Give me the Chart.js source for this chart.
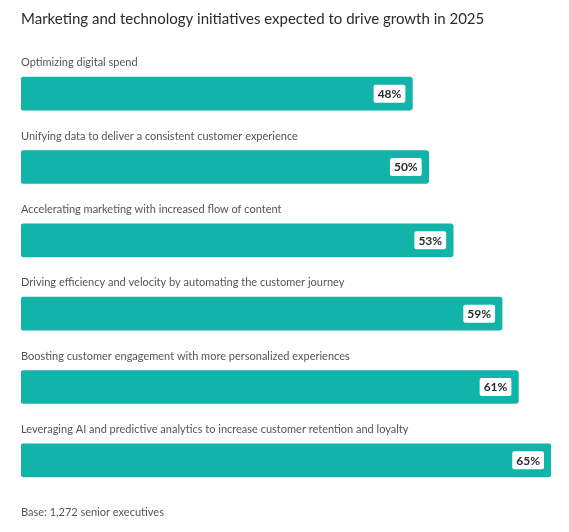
<!DOCTYPE html>
<html><head><meta charset="utf-8">
<script src="https://cdn.jsdelivr.net/npm/chart.js@4"></script>
<style>html,body{margin:0;padding:0;background:#fff}#w{width:569px;height:532px;position:relative}</style>
</head><body><div id="w"><canvas id="c"></canvas></div>
<script>
const categories=["Optimizing digital spend","Unifying data to deliver a consistent customer experience","Accelerating marketing with increased flow of content","Driving efficiency and velocity by automating the customer journey","Boosting customer engagement with more personalized experiences","Leveraging AI and predictive analytics to increase customer retention and loyalty"];
const values=[48,50,53,59,61,65];
const titleText="Marketing and technology initiatives expected to drive growth in 2025";
const footText="Base: 1,272 senior executives";
const FONT="Lato, sans-serif";
const deco={id:'deco',afterDatasetsDraw(ch){
 const ctx=ch.ctx;const meta=ch.getDatasetMeta(0);
 ctx.save();
 ctx.fillStyle='#2c2c2c';ctx.font='15px '+FONT;ctx.textBaseline='middle';ctx.textAlign='left';
 ctx.fillText(titleText,21,19);
 ctx.fillStyle='#555';ctx.font='11px '+FONT;
 ctx.fillText(footText,21,512);
 meta.data.forEach((b,i)=>{
  ctx.fillStyle='#555';ctx.font='11px '+FONT;ctx.textAlign='left';
  ctx.fillText(categories[i],21,b.y-31);
  const t=values[i]+'%';ctx.font='bold 12px '+FONT;
  const w=ctx.measureText(t).width+8;
  const x=b.x-7-w,y=b.y-9;
  ctx.fillStyle='#fff';ctx.beginPath();ctx.roundRect(x,y,w,18,2);ctx.fill();
  ctx.fillStyle='#2c2c2c';ctx.textAlign='center';ctx.fillText(t,x+w/2,b.y+0.5);
 });
 ctx.restore();}};
new Chart(document.getElementById('c'),{type:'bar',
 data:{labels:categories,datasets:[{data:values,backgroundColor:'#12b3a8',borderRadius:3,borderSkipped:false,barThickness:33}]},
 options:{indexAxis:'y',responsive:true,maintainAspectRatio:false,animation:false,
  layout:{padding:{top:57,bottom:35,left:21,right:18}},
  plugins:{legend:{display:false},tooltip:{enabled:false}},
  scales:{x:{display:false,min:0,max:65},y:{display:false}}},
 plugins:[deco]});
</script></body></html>
